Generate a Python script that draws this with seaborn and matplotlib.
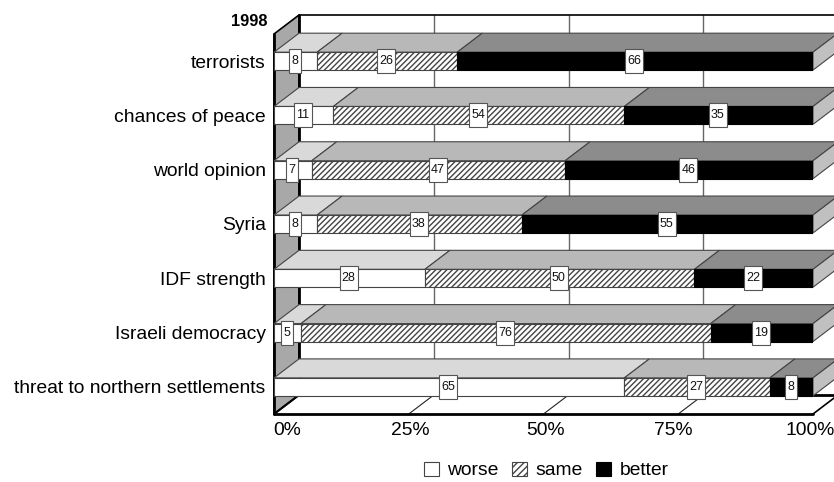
import numpy as np
import pandas as pd
import matplotlib
matplotlib.use('Agg')
import matplotlib.pyplot as plt
import seaborn as sns
from matplotlib.patches import Patch, Polygon, Rectangle
from matplotlib.transforms import ScaledTranslation

# values
categories = ['terrorists', 'chances of peace', 'world opinion', 'Syria',
              'IDF strength', 'Israeli democracy', 'threat to northern settlements']
worse = [8, 11, 7, 8, 28, 5, 65]
same = [26, 54, 47, 38, 50, 76, 27]
better = [66, 35, 46, 55, 22, 19, 8]
x_ticks = [0, 25, 50, 75, 100]
x_labels = ['0%', '25%', '50%', '75%', '100%']

sns.set_style('white')
plt.rcParams['font.family'] = ['Liberation Sans', 'DejaVu Sans']
plt.rcParams['hatch.linewidth'] = 1.0
plt.rcParams['hatch.color'] = '#333333'

W, H = 834, 482
fig = plt.figure(figsize=(W / 100, H / 100), dpi=100)
ax = fig.add_axes([274 / W, 1 - 414 / H, 539 / W, 380 / H])

df = pd.DataFrame({'cat': categories, 'worse': worse, 'same': same, 'better': better})
df['start_same'] = df['worse']
df['start_better'] = df['worse'] + df['same']

bar_h = 0.33
dark = '#444444'
sns.barplot(data=df, x='worse', y='cat', color='white', edgecolor=dark, linewidth=0.8,
            width=bar_h, saturation=1, ax=ax, zorder=5)
sns.barplot(data=df, x='same', y='cat', left=df['start_same'], color='white', edgecolor=dark,
            linewidth=0.8, hatch='//////', width=bar_h, saturation=1, ax=ax, zorder=5)
sns.barplot(data=df, x='better', y='cat', left=df['start_better'], color='black', edgecolor='black',
            linewidth=0.8, width=bar_h, saturation=1, ax=ax, zorder=5)

ax.set_xlim(0, 100)
ax.set_ylim(6.5, -0.5)
dx = 25 / 539 * 100   # depth of the 3d box
dy = 19 / 380 * 7

def poly(pts, fc, ec=dark, lw=0.8, z=4):
    ax.add_patch(Polygon(pts, closed=True, facecolor=fc, edgecolor=ec, linewidth=lw,
                         zorder=z, clip_on=False))

# walls and floor
poly([(0, -0.5), (dx, -0.5 - dy), (dx, 6.5 - dy), (0, 6.5)], '#a8a8a8', ec='black', lw=1.2, z=1)
ax.plot([dx, dx], [-0.5 - dy, 6.5 - dy], color='black', lw=2, clip_on=False, zorder=2)
ax.plot([dx, 100 + dx], [-0.5 - dy, -0.5 - dy], color='black', lw=1.2, clip_on=False, zorder=2)
ax.plot([dx, 100 + dx], [6.5 - dy, 6.5 - dy], color='black', lw=2, clip_on=False, zorder=2)
ax.plot([0, 100], [6.5, 6.5], color='black', lw=2, clip_on=False, zorder=6)
ax.plot([0, 0], [-0.5, 6.5], color='black', lw=2, clip_on=False, zorder=3)
ax.plot([0, dx], [6.5, 6.5 - dy], color='black', lw=1.5, clip_on=False, zorder=3)
ax.plot([100, 100 + dx], [6.5, 6.5 - dy], color='black', lw=1.2, clip_on=False, zorder=3)
for t in x_ticks[1:-1]:
    ax.plot([t + dx, t + dx], [-0.5 - dy, 6.5 - dy], color='#666666', lw=1, clip_on=False, zorder=1)
    ax.plot([t, t + dx], [6.5, 6.5 - dy], color='#222222', lw=0.8, clip_on=False, zorder=3)

# top and side faces, value labels
px_x = 100 / 539
px_y = 7 / 380
for i in range(len(categories)):
    top = i - bar_h / 2
    bot = i + bar_h / 2
    edges = [0, worse[i], worse[i] + same[i], 100]
    vals = [worse[i], same[i], better[i]]
    for j, fc in enumerate(['#d9d9d9', '#b8b8b8', '#8c8c8c']):
        a, b = edges[j], edges[j + 1]
        poly([(a, top), (b, top), (b + dx, top - dy), (a + dx, top - dy)], fc)
        c = (a + b) / 2 - 0.8 * px_x
        w = (6 * len(str(vals[j])) + 6) * px_x
        h = 24 * px_y
        ax.add_patch(Rectangle((c - w / 2, i - h / 2), w, h, facecolor='white', edgecolor='#555555',
                               linewidth=0.8, zorder=8))
        ax.text(c, i, str(vals[j]), ha='center', va='center', fontsize=9, color='#111111', zorder=9)
    poly([(100, top), (100 + dx, top - dy), (100 + dx, bot - dy), (100, bot)], '#c0c0c0')

ax.set_xticks(x_ticks)
ax.set_xticklabels(x_labels)
ax.set_xlabel('')
ax.set_ylabel('')
ax.tick_params(axis='both', length=0, labelsize=13.9, colors='black')
ax.tick_params(axis='y', pad=6)
ax.tick_params(axis='x', pad=6)
sns.despine(ax=ax, left=True, bottom=True)

# the outer labels are pulled in so they stay inside the picture
shifts = [13, 2, 2, -5, -3]
for lab, s in zip(ax.get_xticklabels(), shifts):
    lab.set_transform(lab.get_transform() + ScaledTranslation(s / 100, 0, fig.dpi_scale_trans))

fig.text(267 / W, 1 - 21 / H, '1998', ha='right', va='center', fontsize=11.8, fontweight='bold', color='black')

handles = [Patch(facecolor='white', edgecolor=dark, linewidth=0.8),
           Patch(facecolor='white', edgecolor=dark, linewidth=0.8, hatch='/////'),
           Patch(facecolor='black', edgecolor='black', linewidth=0.8)]
fig.legend(handles, ['worse', 'same', 'better'], ncol=3, frameon=False, fontsize=13.9,
           loc='center', bbox_to_anchor=(546 / W, 1 - 470.5 / H), handlelength=0.78, handleheight=0.78,
           handletextpad=0.42, columnspacing=0.72, labelcolor='black')

fig.savefig('out.png', dpi=100)
